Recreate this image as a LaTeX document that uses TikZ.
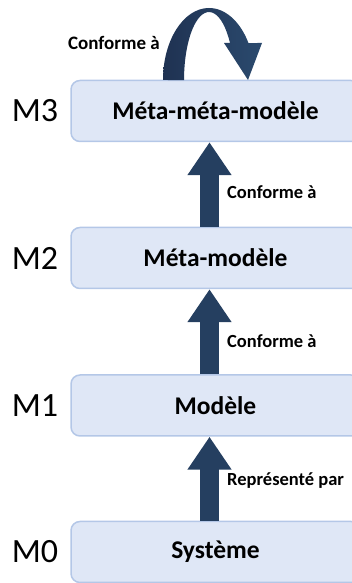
\documentclass[tikz,border=0pt]{standalone}
\usepackage{fontspec}
\setmainfont{Carlito}
\usetikzlibrary{arrows.meta,calc}
\definecolor{boxfill}{HTML}{DFE7F6}
\definecolor{boxline}{HTML}{B4C7E7}
\definecolor{arrowcol}{HTML}{253F60}
\definecolor{loopdark}{HTML}{1F3252}
\definecolor{looplight}{HTML}{2B4A6E}
\tikzset{
  level/.style={draw=boxline, fill=boxfill, line width=1.5pt, rounded corners=9pt,
    minimum width=289pt, minimum height=61pt, inner sep=0pt,
    font=\bfseries\fontsize{25.5}{25.5}\selectfont},
  mlabel/.style={font=\fontsize{34}{34}\selectfont, inner sep=0pt},
  alabel/.style={font=\bfseries\fontsize{18.5}{18.5}\selectfont, inner sep=0pt, anchor=west},
  blockarrow/.style={draw=arrowcol, line width=19pt, -{Triangle[width=42pt,length=33pt]}}
}
\begin{document}
\begin{tikzpicture}[x=1pt,y=1pt]
\useasboundingbox (0,0) rectangle (351,583);
\coordinate (ax) at (209.5,0);
\node[level] (m3) at (215.5,472) {Méta-méta-modèle};
\node[level] (m2) at (215.5,325) {Méta-modèle};
\node[level] (m1) at (215.5,177.5) {Modèle};
\node[level] (m0) at (215.5,31) {Système};
\node[mlabel] (l3) at (35,472) {M3};
\node[mlabel] (l2) at (35,325) {M2};
\node[mlabel] (l1) at (35,177.5) {M1};
\node[mlabel] (l0) at (35,31) {M0};
\draw[blockarrow] (m2.north -| ax) -- (m3.south -| ax);
\draw[blockarrow] (m1.north -| ax) -- (m2.south -| ax);
\draw[blockarrow] (m0.north -| ax) -- (m1.south -| ax);
\node[alabel] (c3) at (227,391) {Conforme à};
\node[alabel] (c2) at (227,242) {Conforme à};
\node[alabel] (c1) at (227,102) {Représenté par};
% loop arrow on top of M3
\shade[left color=loopdark, right color=looplight]
  (163,503) arc[start angle=180, end angle=30.9, x radius=46pt, y radius=72pt]
  -- (262,540) -- (248,503) -- (224,540) -- (230,540)
  arc[start angle=33, end angle=180, x radius=25pt, y radius=68pt] -- cycle;
\node[alabel, anchor=east, font=\bfseries\fontsize{19}{19}\selectfont] (c4) at (160,540) {Conforme à};
\end{tikzpicture}
\end{document}
